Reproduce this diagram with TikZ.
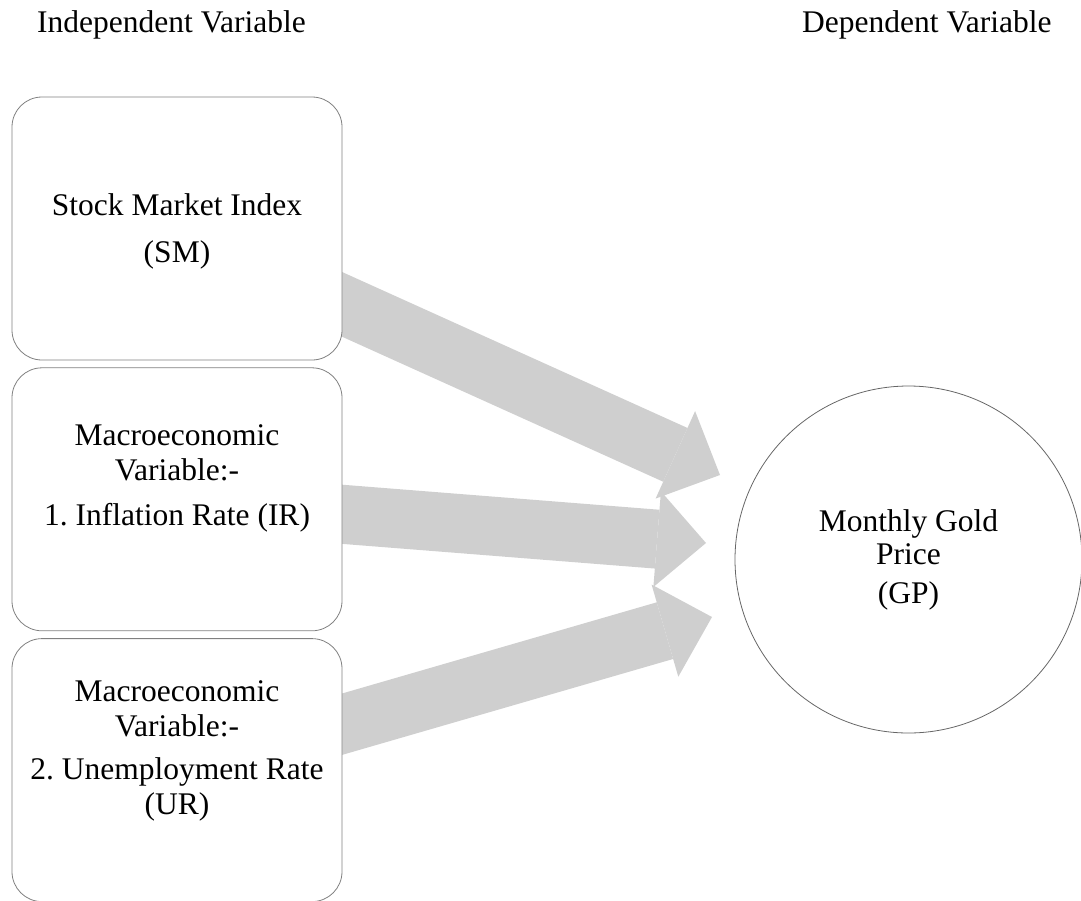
\documentclass[tikz,border=0pt]{standalone}
\usepackage{fontspec}
\setmainfont{Liberation Serif}
\usetikzlibrary{positioning,arrows.meta,backgrounds,calc}
\frenchspacing

\tikzset{
  varbox/.style={draw=black!50, line width=0.8pt, fill=white, rounded corners=30pt,
    minimum width=330pt, minimum height=263pt, inner sep=0pt},
  vartext/.style={align=center, font=\fontsize{31.5}{35}\selectfont, inner sep=0pt},
  heading/.style={anchor=base west, font=\fontsize{31.5}{35}\selectfont, inner sep=0pt},
  bigarrow/.style={draw=black!19, line width=59pt,
    -{Triangle[length=49pt,width=96pt,line width=0pt]}}
}

\begin{document}
\begin{tikzpicture}[x=1pt,y=-1pt]
  \useasboundingbox (0,0) rectangle (1081,900);

  \node[heading] (indep) at (37,32) {Independent Variable};
  \node[heading] (dep) at (802,32) {Dependent Variable};

  \node[varbox] (sm) at (177,228.5) {};
  \node[varbox, below=7pt of sm] (ir) {};
  \node[varbox, below=7pt of ir] (ur) {};

  \node[vartext] (smtext) at ([yshift=-2.5pt]sm.center) {Stock Market Index\\[12pt](SM)};
  \node[vartext] (irtext) at ([yshift=21pt]ir.center) {Macroeconomic\\Variable:-\\[10pt]1. Inflation Rate (IR)};
  \node[vartext] (urtext) at ([yshift=19.5pt]ur.center) {Macroeconomic\\Variable:-\\[8pt]2. Unemployment Rate\\(UR)};

  \node[draw=black!60, line width=0.8pt, circle, minimum size=347pt, inner sep=0pt,
    align=center, font=\fontsize{31.5}{33}\selectfont] (gp) at (908.5,559.5)
    {Monthly Gold\\Price\\[6pt](GP)};

  \coordinate (smout) at ([yshift=-76pt]sm.east);
  \coordinate (irout) at ([yshift=-15pt]ir.east);
  \coordinate (urout) at ([yshift=46pt]ur.east);
  \coordinate (gpin1) at (720,475);
  \coordinate (gpin2) at (706,543);
  \coordinate (gpin3) at (712,617);

  % block arrows sit behind the boxes
  \begin{scope}[on background layer]
    \draw[bigarrow] ($(smout)!-40pt!(gpin1)$) -- (gpin1);
    \draw[bigarrow] ($(irout)!-40pt!(gpin2)$) -- (gpin2);
    \draw[bigarrow] ($(urout)!-40pt!(gpin3)$) -- (gpin3);
  \end{scope}
\end{tikzpicture}
\end{document}
